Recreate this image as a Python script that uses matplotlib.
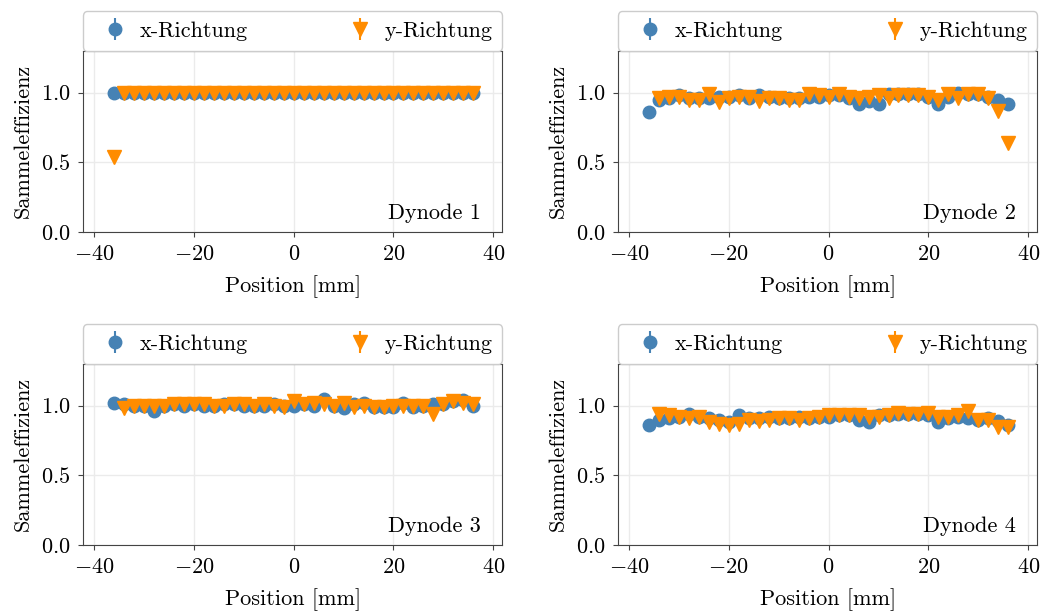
import numpy as np
import matplotlib
matplotlib.use("Agg")
import matplotlib.pyplot as plt

# Messpositionen in mm
positions = np.arange(-36, 37, 2)

nan = np.nan

# Dynode 1
d1_x = [1.00] * 37
d1_y = [0.54] + [1.00] * 36

# Dynode 2
d2_x = [0.86, 0.95, 0.96, 0.98, 0.96, 0.96, 0.96, 0.97, 0.97, 0.98, 0.96, 0.98, 0.97,
        0.96, 0.96, 0.96, 0.97, 0.97, 0.98, 0.98, 0.96, 0.92, 0.94, 0.92, 0.99, 0.99,
        0.99, 0.99, 0.97, 0.92, 0.97, 1.00, 0.99, 0.99, 0.97, 0.95, 0.92]
d2_y = [nan, 0.96, 0.97, 0.97, 0.95, 0.95, 0.99, 0.93, 0.96, 0.97, 0.97, 0.94, 0.96,
        0.96, 0.95, 0.95, 0.99, 0.98, 0.97, 0.99, 0.97, 0.96, 0.97, 0.98, 0.96, 0.98,
        0.98, 0.98, 0.97, 0.95, 0.99, 0.96, 0.99, 0.99, 0.96, 0.87, 0.64]

# Dynode 3
d3_x = [1.02, 1.01, 1.00, 1.00, 0.96, 1.00, 1.01, 1.00, 1.01, 1.00, 1.00, 1.01, 1.01,
        1.00, 1.00, 1.00, 1.01, 1.00, 1.00, 1.01, 1.00, 1.05, 1.00, 0.98, 1.01, 1.02,
        0.99, 0.99, 0.99, 1.02, 0.99, 1.00, 1.01, 1.01, 1.03, 1.04, 1.00]
d3_y = [nan, 0.98, 1.00, 1.00, 1.00, 1.00, 1.01, 1.01, 1.01, 1.01, 1.00, 1.00, 1.01,
        1.01, 1.00, 1.01, 1.00, 0.99, 1.03, 1.01, 1.02, 1.01, 1.00, 1.02, 0.99, 1.00,
        0.99, 0.99, 1.00, 1.00, 1.00, 1.00, 0.94, 1.01, 1.03, 1.02, 1.01]

# Dynode 4
d4_x = [0.86, 0.90, 0.91, 0.92, 0.94, 0.92, 0.91, 0.90, 0.88, 0.93, 0.91, 0.91, 0.92,
        0.91, 0.91, 0.92, 0.91, 0.92, 0.92, 0.93, 0.93, 0.90, 0.88, 0.93, 0.93, 0.94,
        0.94, 0.94, 0.93, 0.88, 0.91, 0.92, 0.91, 0.90, 0.91, 0.89, 0.86]
d4_y = [nan, 0.94, 0.93, 0.92, 0.91, 0.92, 0.88, 0.87, 0.86, 0.87, 0.90, 0.89, 0.90,
        0.91, 0.91, 0.90, 0.91, 0.92, 0.93, 0.93, 0.93, 0.93, 0.92, 0.92, 0.93, 0.95,
        0.94, 0.94, 0.95, 0.92, 0.92, 0.93, 0.96, 0.90, 0.90, 0.85, 0.85]

dynodes = [("Dynode 1", d1_x, d1_y), ("Dynode 2", d2_x, d2_y),
           ("Dynode 3", d3_x, d3_y), ("Dynode 4", d4_x, d4_y)]

plt.rcParams.update({
    "font.family": "serif",
    "font.serif": ["cmr10"],
    "mathtext.fontset": "cm",
    "axes.formatter.use_mathtext": True,
    "font.size": 16,
    "axes.unicode_minus": True,
})

fig = plt.figure(figsize=(10.43, 6.12), dpi=100)
lefts = [0.0796, 0.5925]
bottoms = [0.621, 0.1095]
w, h = 0.402, 0.296

for k, (name, xs, ys) in enumerate(dynodes):
    ax = fig.add_axes([lefts[k % 2], bottoms[k // 2], w, h])
    ax.grid(True, color="#ebebeb", linewidth=1.0)
    ax.set_axisbelow(True)
    ax.errorbar(positions, xs, yerr=np.zeros(len(xs)), fmt="o", color="steelblue",
                markersize=9, label="x-Richtung")
    ax.errorbar(positions, ys, yerr=np.zeros(len(ys)), fmt="v", color="darkorange",
                markersize=10.5, label="y-Richtung")
    ax.set_xlim(-42.2, 41.8)
    ax.set_ylim(0, 1.3)
    ax.set_yticks([0.0, 0.5, 1.0])
    ax.set_xticks([-40, -20, 0, 20, 40])
    ax.set_xlabel("Position [mm]", labelpad=8)
    ax.set_ylabel("Sammeleffizienz", labelpad=6)
    for s in ax.spines.values():
        s.set_color("#444444")
    ax.tick_params(color="#444444", pad=5.5)
    ax.text(0.95, 0.05, name, transform=ax.transAxes, ha="right", va="bottom")
    ax.legend(loc="lower left", bbox_to_anchor=(0, 1.0, 1, 0.2), mode="expand",
              ncol=2, borderaxespad=0, framealpha=1, edgecolor="#cccccc",
              borderpad=0.45, handletextpad=0.1)

fig.savefig("out.png", dpi=100)
